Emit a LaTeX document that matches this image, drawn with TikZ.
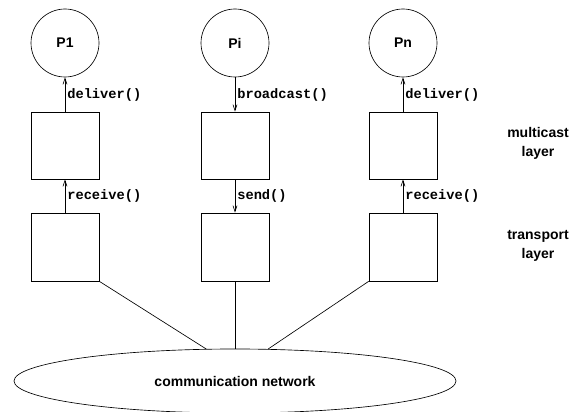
\documentclass[tikz,border=0pt]{standalone}
\usepackage{fontspec}
\setmainfont{Liberation Sans}
\setmonofont{Liberation Mono}
\usetikzlibrary{arrows.meta,shapes.geometric}

\tikzset{
    proc/.style={draw, circle, minimum size=68pt, inner sep=0pt, font=\fontsize{14}{17}\selectfont\bfseries},
    layerbox/.style={draw, minimum width=68pt, minimum height=67pt, inner sep=0pt},
    call/.style={font=\fontsize{13.7}{16}\selectfont\ttfamily\bfseries, inner sep=2pt},
    layername/.style={align=center, font=\fontsize{14}{19}\selectfont\bfseries},
    tip/.style={-{Straight Barb[length=6pt,width=4pt]}}
}

\begin{document}
\begin{tikzpicture}[x=1pt, y=-1pt, line width=0.65pt]
        \useasboundingbox (0,0) rectangle (574,412);

        % processes
        \node[proc] (p1) at (65,43) {P1};
        \node[proc] (p2) at (235,43) {Pi};
        \node[proc] (p3) at (403,43) {Pn};

        % multicast layer
        \node[layerbox] (m1) at (65,145.5) {};
        \node[layerbox] (m2) at (235,145.5) {};
        \node[layerbox] (m3) at (403,145.5) {};

        % transport layer
        \node[layerbox, minimum height=68pt] (t1) at (65,247) {};
        \node[layerbox, minimum height=68pt] (t2) at (235,247) {};
        \node[layerbox, minimum height=68pt] (t3) at (403,247) {};

        \node[layername] (ml) at (538,143.5) {multicast\\layer};
        \node[layername] (tl) at (538,246) {transport\\layer};

        \node[draw, ellipse, minimum width=442pt, minimum height=64pt, font=\fontsize{14}{17}\selectfont\bfseries] (net) at (235,381) {communication network};

        \draw[tip] (m1.north) -- node[call, right] {deliver()} (p1.south);
        \draw[tip] (p2.south) -- node[call, right] {broadcast()} (m2.north);
        \draw[tip] (m3.north) -- node[call, right] {deliver()} (p3.south);

        \draw[tip] (t1.north) -- node[call, right] {receive()} (m1.south);
        \draw[tip] (m2.south) -- node[call, right] {send()} (t2.north);
        \draw[tip] (t3.north) -- node[call, right] {receive()} (m3.south);

        \draw (t1.south east) -- (net.132);
        \draw (t2.south) -- (net.north);
        \draw (t3.south west) -- (net.44);
    \end{tikzpicture}
\end{document}
